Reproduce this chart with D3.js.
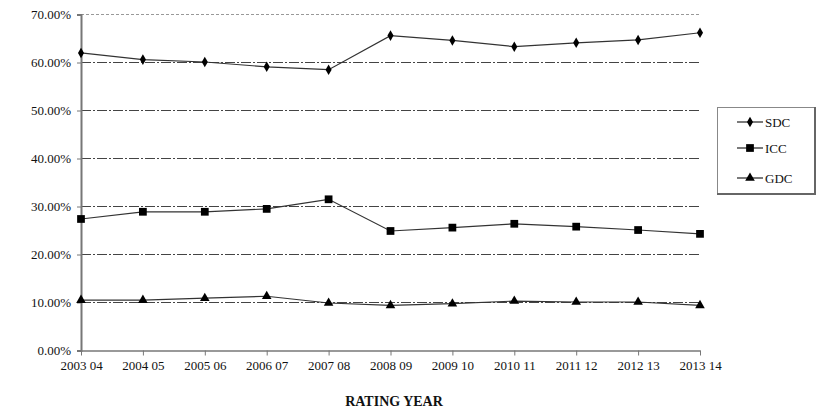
<!DOCTYPE html>
<html><head><meta charset="utf-8">
<script src="https://cdn.jsdelivr.net/npm/d3@7"></script>
<style>body{margin:0;background:#fff}svg{display:block}svg text{font-family:"Liberation Serif","Times New Roman",serif !important}</style>
</head><body><svg id="c" width="819" height="411"></svg>
<script>
const categories = ["2003 04","2004 05","2005 06","2006 07","2007 08","2008 09","2009 10","2010 11","2011 12","2012 13","2013 14"];
const sdc = [62.0,60.6,60.1,59.1,58.5,65.6,64.6,63.3,64.1,64.7,66.2];
const icc = [27.4,28.9,28.9,29.5,31.5,24.9,25.6,26.4,25.8,25.1,24.3];
const gdc = [10.5,10.5,10.9,11.3,9.9,9.4,9.75,10.3,10.1,10.1,9.4];
const yTicks = [0,10,20,30,40,50,60,70];
const seriesNames = ["SDC","ICC","GDC"];

const svg = d3.select("#c");
const x = d3.scalePoint().domain(categories).range([81,700]);
const y = d3.scaleLinear().domain([0,70]).range([350.5,14.5]);

// gridlines
svg.append("g").selectAll("line").data(yTicks.filter(t=>t>0)).join("line")
  .attr("x1",81).attr("x2",700).attr("y1",d=>y(d)).attr("y2",d=>y(d))
  .attr("stroke",d=>d===70?"#999":"#444").attr("stroke-width",1)
  .attr("stroke-dasharray",d=>d===70?"3,2":"10,2,2,2");

// y axis
const ya = svg.append("g").attr("transform","translate(81,0)")
  .call(d3.axisLeft(y).tickValues(yTicks).tickSize(4).tickFormat(d=>d.toFixed(2)+"%"));
ya.attr("font-family",null);
ya.select(".domain").attr("stroke","#777").attr("stroke-width",2);
ya.selectAll(".tick line").attr("stroke","#777");
ya.selectAll("text").style("font-size","13px").attr("fill","#111").attr("x",-10);

// x axis
const xa = svg.append("g").attr("transform","translate(0,350.5)")
  .call(d3.axisBottom(x).tickSize(5).tickSizeOuter(0));
xa.attr("font-family",null);
xa.select(".domain").attr("stroke","#777").attr("stroke-width",1.5);
xa.selectAll(".tick line").attr("stroke","#777");
xa.selectAll("text").style("font-size","13px").attr("fill","#111").attr("dy","0.9em");

svg.append("text").attr("x",394).attr("y",406).attr("text-anchor","middle")
  .style("font-size","14px").attr("font-weight","bold").attr("fill","#111").text("RATING YEAR");

const series = [
  {name:"SDC", vals:sdc, sym:d3.symbolDiamond, size:32},
  {name:"ICC", vals:icc, sym:d3.symbolSquare, size:60},
  {name:"GDC", vals:gdc, sym:d3.symbolTriangle, size:40}
];
const line = d3.line().x((d,i)=>x(categories[i])).y(d=>y(d));
series.forEach(s=>{
  svg.append("path").attr("d",line(s.vals)).attr("fill","none").attr("stroke","#333").attr("stroke-width",1.2);
  svg.append("g").selectAll("path").data(s.vals).join("path")
    .attr("transform",(d,i)=>`translate(${x(categories[i])},${y(d)})`)
    .attr("d",d3.symbol().type(s.sym).size(s.size)).attr("fill","#000");
});

// legend
const lg = svg.append("g");
lg.append("rect").attr("x",717.5).attr("y",107.5).attr("width",97).attr("height",86)
  .attr("fill","#fff").attr("stroke","#888").attr("stroke-width",1);
lg.append("line").attr("x1",717).attr("x2",816).attr("y1",194).attr("y2",194).attr("stroke","#666").attr("stroke-width",2);
lg.append("line").attr("x1",815).attr("x2",815).attr("y1",107).attr("y2",195).attr("stroke","#666").attr("stroke-width",2);
const ly = [122,148,178];
series.forEach((s,i)=>{
  lg.append("line").attr("x1",737).attr("x2",763).attr("y1",ly[i]).attr("y2",ly[i]).attr("stroke","#222").attr("stroke-width",1.2);
  lg.append("path").attr("transform",`translate(750,${ly[i]})`).attr("d",d3.symbol().type(s.sym).size(s.size)).attr("fill","#000");
  lg.append("text").attr("x",765).attr("y",ly[i]+4.5).style("font-size","13px").attr("fill","#111").text(seriesNames[i]);
});
</script></body></html>
